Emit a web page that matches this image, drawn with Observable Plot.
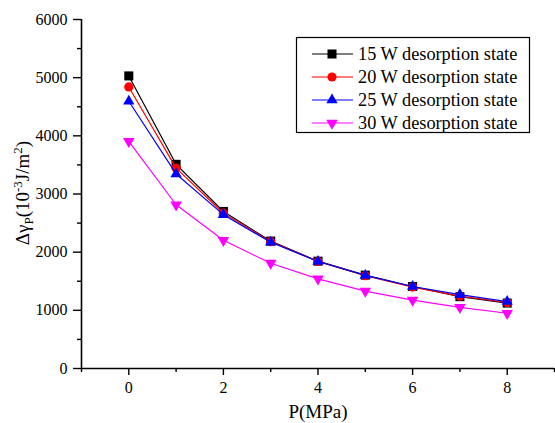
<!DOCTYPE html>
<html>
<head>
<meta charset="utf-8">
<script src="https://cdn.jsdelivr.net/npm/d3@7"></script>
<script src="https://cdn.jsdelivr.net/npm/@observablehq/plot@0.6"></script>
<style>
  html, body { margin: 0; padding: 0; background: #fff; }
  #chart { position: relative; width: 555px; height: 423px; }
</style>
</head>
<body>
<div id="chart"></div>
<script>
// ---- data ----
const pressure = [0, 1, 2, 3, 4, 5, 6, 7, 8];
const w15 = [5030, 3510, 2700, 2190, 1845, 1605, 1410, 1235, 1125];
const w20 = [4840, 3445, 2670, 2180, 1840, 1595, 1400, 1245, 1135];
const w25 = [4595, 3345, 2645, 2170, 1840, 1600, 1410, 1270, 1150];
const w30 = [3905, 2815, 2205, 1810, 1540, 1330, 1175, 1050, 950];
const seriesNames = ["15 W desorption state", "20 W desorption state", "25 W desorption state", "30 W desorption state"];
const seriesColors = ["#000000", "#ff0000", "#0000ff", "#ff00ff"];
const xMajorTicks = [0, 2, 4, 6, 8];
const xMinorTicks = [-1, 1, 3, 5, 7, 9];
const yMajorTicks = [0, 1000, 2000, 3000, 4000, 5000, 6000];
const yMinorTicks = [500, 1500, 2500, 3500, 4500, 5500];

const FONT = "'Liberation Serif', 'Times New Roman', serif";

const triangleDown = {
  draw(context, size) {
    const s3 = Math.sqrt(3);
    const y = -Math.sqrt(size / (s3 * 3));
    context.moveTo(0, -y * 2);
    context.lineTo(-s3 * y, y);
    context.lineTo(s3 * y, y);
    context.closePath();
  }
};
const seriesSymbols = ["square", "circle", "triangle", triangleDown];
const seriesR = [5.1, 4.6, 4.2, 4.3];
const allValues = [w15, w20, w25, w30];

const seriesMarks = [];
allValues.forEach((vals, i) => {
  const rows = pressure.map((p, j) => ({p, v: vals[j]}));
  seriesMarks.push(Plot.line(rows, {x: "p", y: "v", stroke: seriesColors[i], strokeWidth: 1.2}));
  seriesMarks.push(Plot.dot(rows, {x: "p", y: "v", fill: seriesColors[i], stroke: "none", symbol: seriesSymbols[i], r: seriesR[i]}));
});

const fmt = d3.format("d");

const plot = Plot.plot({
  width: 555,
  height: 423,
  marginLeft: 81,
  marginRight: 1,
  marginTop: 19,
  marginBottom: 55,
  style: {fontFamily: FONT, fontSize: "16px", color: "#000", background: "#fff"},
  x: {domain: [-1, 9]},
  y: {domain: [0, 6000]},
  marks: [
    Plot.axisY({ticks: yMajorTicks, tickSize: 8, tickPadding: 6, fontSize: 16, fontFamily: FONT, strokeWidth: 1.4, tickFormat: fmt, label: null}),
    Plot.axisY({ticks: yMinorTicks, tickSize: 4, tickFormat: () => "", strokeWidth: 1.4, label: null}),
    Plot.axisX({ticks: xMajorTicks, tickSize: 7, tickPadding: 6, fontSize: 16, fontFamily: FONT, strokeWidth: 1.4, tickFormat: fmt, label: null}),
    Plot.axisX({ticks: xMinorTicks, tickSize: 4, tickFormat: () => "", strokeWidth: 1.4, label: null}),
    Plot.ruleX([-1], {stroke: "#000", strokeWidth: 1.6}),
    Plot.ruleY([0], {stroke: "#000", strokeWidth: 1.6}),
    ...seriesMarks,
    Plot.text(["P(MPa)"], {frameAnchor: "bottom", lineAnchor: "middle", dy: 43, fontSize: 19, fontFamily: FONT, fill: "#000"})
  ]
});
document.getElementById("chart").appendChild(plot);

const svg = d3.select(plot);
// y-axis label with sub/superscripts
const yl = svg.append("text")
  .attr("transform", "translate(29,193) rotate(-90)")
  .attr("text-anchor", "middle")
  .attr("font-family", FONT)
  .attr("font-size", 19)
  .attr("fill", "#000");
yl.append("tspan").text("Δγ");
yl.append("tspan").attr("font-size", 13).attr("dy", 4).text("P");
yl.append("tspan").attr("dy", -4).text("(10");
yl.append("tspan").attr("font-size", 13).attr("dy", -7).text("-3");
yl.append("tspan").attr("dy", 7).text("J/m");
yl.append("tspan").attr("font-size", 13).attr("dy", -7).text("2");
yl.append("tspan").attr("dy", 7).text(")");

// legend
const lg = svg.append("g");
lg.append("rect").attr("x", 296.5).attr("y", 37.5).attr("width", 233).attr("height", 95)
  .attr("fill", "#fff").attr("stroke", "#000").attr("stroke-width", 1.2);
seriesNames.forEach((name, i) => {
  const cy = 54 + i * 23;
  const g = lg.append("g");
  g.append("line").attr("x1", 312).attr("x2", 353).attr("y1", cy).attr("y2", cy)
    .attr("stroke", seriesColors[i]).attr("stroke-width", 1.2);
  const sym = typeof seriesSymbols[i] === "string"
    ? {square: d3.symbolSquare, circle: d3.symbolCircle, triangle: d3.symbolTriangle}[seriesSymbols[i]]
    : seriesSymbols[i];
  g.append("path").attr("d", d3.symbol(sym, seriesR[i] * seriesR[i] * Math.PI)())
    .attr("transform", `translate(332,${cy})`).attr("fill", seriesColors[i]);
  g.append("text").attr("x", 358).attr("y", cy).attr("dy", "0.33em")
    .attr("text-anchor", "start")
    .attr("font-family", FONT)
    .attr("font-size", 18.3).attr("fill", "#000").text(name);
});
</script>
</body>
</html>
